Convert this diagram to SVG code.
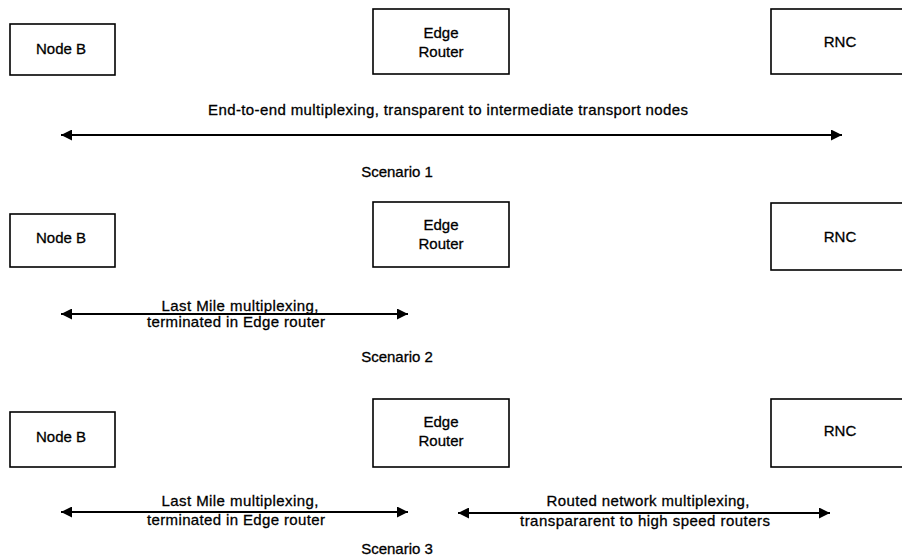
<svg xmlns="http://www.w3.org/2000/svg" width="902" height="557" viewBox="0 0 902 557">
<defs>
<style>
.box{fill:#fff;stroke:#000;stroke-width:1.6}
.t{font-family:"Liberation Sans",Arial,sans-serif;font-size:15px;fill:#000;stroke:#000;stroke-width:0.3;text-anchor:middle}
.c{stroke:#000;stroke-width:1.8;fill:none;marker-start:url(#ah);marker-end:url(#ah)}
</style>
<marker id="ah" markerUnits="userSpaceOnUse" markerWidth="12" markerHeight="11" refX="11" refY="5.5" orient="auto-start-reverse">
<path d="M0,0 L11,5.5 L0,11 z" fill="#000"/>
</marker>
</defs>
<rect width="902" height="557" fill="#fff"/>

<!-- Scenario 1 -->
<g id="s1-nodeb"><rect class="box" x="10" y="24" width="105" height="51"/><text class="t" x="61" y="54">Node B</text></g>
<g id="s1-edge"><rect class="box" x="373" y="9" width="136" height="65"/><text class="t" x="441" y="38">Edge</text><text class="t" x="441" y="57">Router</text></g>
<g id="s1-rnc"><rect class="box" x="771" y="9" width="140" height="65"/><text class="t" x="840" y="47">RNC</text></g>
<text class="t" x="448" y="115" textLength="480" lengthAdjust="spacing">End-to-end multiplexing, transparent to intermediate transport nodes</text>
<text class="t" x="397" y="177">Scenario 1</text>

<!-- Scenario 2 -->
<g id="s2-nodeb"><rect class="box" x="10" y="214" width="105" height="53"/><text class="t" x="61" y="243">Node B</text></g>
<g id="s2-edge"><rect class="box" x="373" y="202" width="136" height="65"/><text class="t" x="441" y="230">Edge</text><text class="t" x="441" y="249">Router</text></g>
<g id="s2-rnc"><rect class="box" x="771" y="203" width="140" height="67"/><text class="t" x="840" y="242">RNC</text></g>
<text class="t" x="240" y="311" textLength="157" lengthAdjust="spacing">Last Mile multiplexing,</text>
<text class="t" x="236" y="327" textLength="178" lengthAdjust="spacing">terminated in Edge router</text>
<text class="t" x="397" y="362">Scenario 2</text>

<!-- Scenario 3 -->
<g id="s3-nodeb"><rect class="box" x="10" y="412" width="105" height="55"/><text class="t" x="61" y="442">Node B</text></g>
<g id="s3-edge"><rect class="box" x="373" y="399" width="136" height="68"/><text class="t" x="441" y="427">Edge</text><text class="t" x="441" y="446">Router</text></g>
<g id="s3-rnc"><rect class="box" x="771" y="399" width="140" height="68"/><text class="t" x="840" y="436">RNC</text></g>
<text class="t" x="240" y="506" textLength="157" lengthAdjust="spacing">Last Mile multiplexing,</text>
<text class="t" x="236" y="525" textLength="178" lengthAdjust="spacing">terminated in Edge router</text>
<text class="t" x="648" y="506" textLength="203" lengthAdjust="spacing">Routed network multiplexing,</text>
<text class="t" x="645" y="526" textLength="250" lengthAdjust="spacing">transpararent to high speed routers</text>
<text class="t" x="397" y="554">Scenario 3</text>

<g id="connectors">
<line class="c" x1="61" y1="135" x2="842" y2="135"/>
<line class="c" x1="61" y1="314" x2="408" y2="314"/>
<line class="c" x1="61" y1="512" x2="408" y2="512"/>
<line class="c" x1="458" y1="513" x2="830" y2="513"/>
</g>
</svg>
